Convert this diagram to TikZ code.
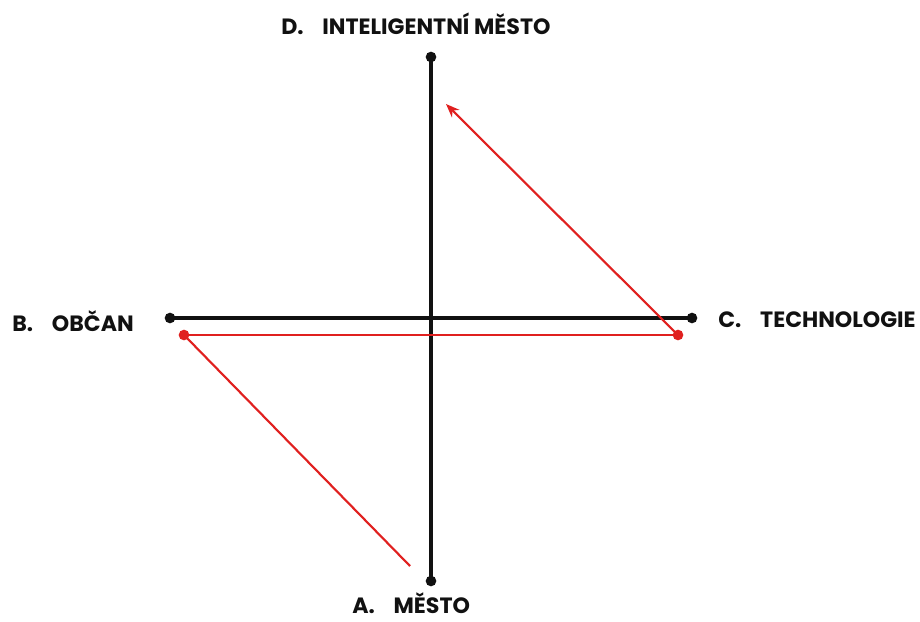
\documentclass[tikz,border=0pt]{standalone}
\usepackage{fontspec}
\setmainfont{Poppins}
\usepackage{tikz}
\usetikzlibrary{arrows.meta,positioning}
\definecolor{AxisInk}{HTML}{111111}
\definecolor{FlowRed}{HTML}{E0201F}
\tikzset{
  >={Stealth[length=3.6mm,width=2.8mm]},
  axis/.style={draw=AxisInk,line width=2.6pt},
  redline/.style={draw=FlowRed,line width=1.6pt},
  blackdot/.style={circle,fill=AxisInk,inner sep=0pt,minimum size=8pt},
  reddot/.style={circle,fill=FlowRed,inner sep=0pt,minimum size=8pt},
  lbl/.style={anchor=west,inner sep=0pt,font=\fontsize{16.6}{19}\selectfont\bfseries,text=AxisInk}
}
\begin{document}
\begin{tikzpicture}[x=0.75pt,y=-0.75pt]
    \useasboundingbox (0,0) rectangle (920,621);

    % axis end points
    \node[blackdot] (dtop) at (431,57) {};
    \node[blackdot] (abot) at (431,581) {};
    \node[blackdot] (bleft) at (170,318) {};
    \node[blackdot] (cright) at (692,318) {};
    \draw[axis] (dtop.center) -- (abot.center);
    \draw[axis] (bleft.center) -- (cright.center);

    % labels
    \node[lbl] (dlbl) at (281,24) {D.\hspace{0.85em}INTELIGENTNÍ MĚSTO};
    \node[lbl] (blbl) at (12,321) {B.\hspace{0.85em}OBČAN};
    \node[lbl] (clbl) at (718,320) {C.\hspace{0.85em}TECHNOLOGIE};
    \node[lbl] (albl) at (352,603) {A.\hspace{0.85em}MĚSTO};

    % red path
    \node[reddot] (rleft) at (184,335) {};
    \node[reddot] (rright) at (678,335) {};
    \coordinate (rlow) at (410,566);
    \coordinate (rtip) at (446,104);
    \draw[redline] (rleft.center) -- (rright.center);
    \draw[redline] (rleft.center) -- (rlow);
    \draw[redline,->] (rright.center) -- (rtip);
\end{tikzpicture}
\end{document}
